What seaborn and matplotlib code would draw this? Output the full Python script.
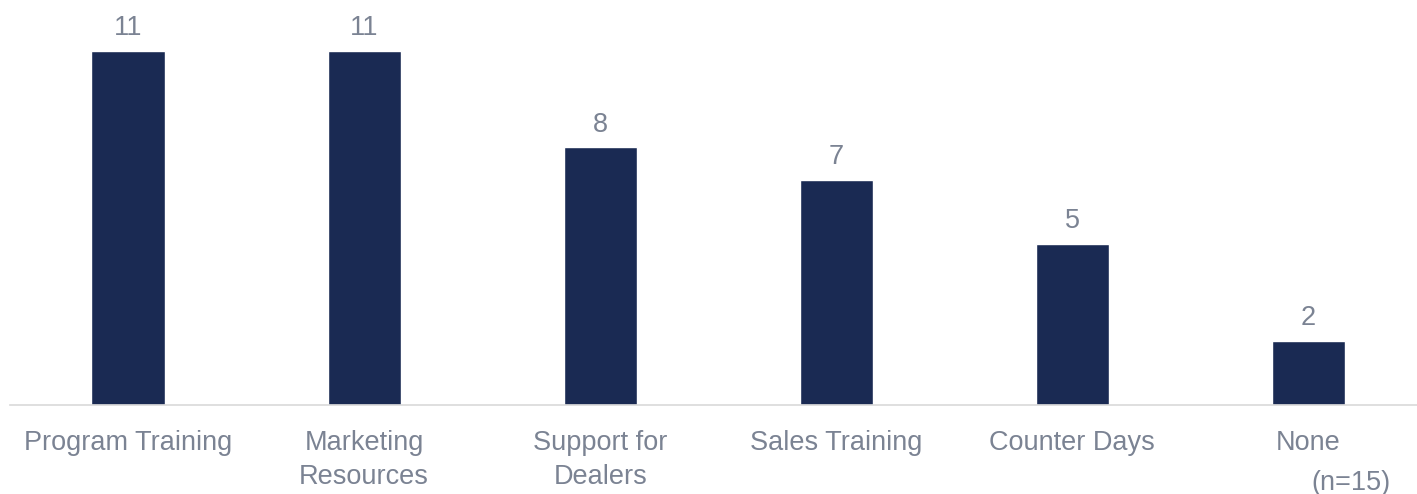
import matplotlib
matplotlib.use("Agg")
import matplotlib.pyplot as plt
import seaborn as sns
import pandas as pd

categories = ["Program Training", "Marketing\nResources", "Support for\nDealers",
              "Sales Training", "Counter Days", "None"]
values = [11, 11, 8, 7, 5, 2]
note = "(n=15)"

sns.set_theme(style="white")
plt.rcParams['font.family'] = ['Liberation Sans', 'DejaVu Sans']

bar_color = "#1A2A53"
text_color = "#7B8393"

df = pd.DataFrame({"cat": categories, "val": values})

fig = plt.figure(figsize=(14.17, 4.94), dpi=100)
ax = fig.add_axes([10/1417, 1 - 405/494, 1 - 10/1417, 405/494])
sns.barplot(data=df, x="cat", y="val", color=bar_color, width=0.31, ax=ax,
            saturation=1)
ax.set_xlim(-0.5, 5.46)
ax.set_ylim(0, 12.58)
for i, v in enumerate(values):
    ax.text(i, v + 0.3, str(v), ha="center", va="bottom", fontsize=19.5, color=text_color)
ax.set_xlabel("")
ax.set_ylabel("")
ax.set_yticks([])
ax.tick_params(axis="x", length=0, pad=18, labelsize=19.5, labelcolor=text_color)
for lab in ax.get_xticklabels():
    lab.set_linespacing(1.4)
for s in ["top", "left", "right"]:
    ax.spines[s].set_visible(False)
ax.spines["bottom"].set_color("#D9D9D9")
ax.spines["bottom"].set_linewidth(1.2)
fig.text(1351/1417, 1 - 483/494, note, ha="center", va="center", fontsize=19.5, color=text_color)
fig.savefig("out.png", dpi=100)
